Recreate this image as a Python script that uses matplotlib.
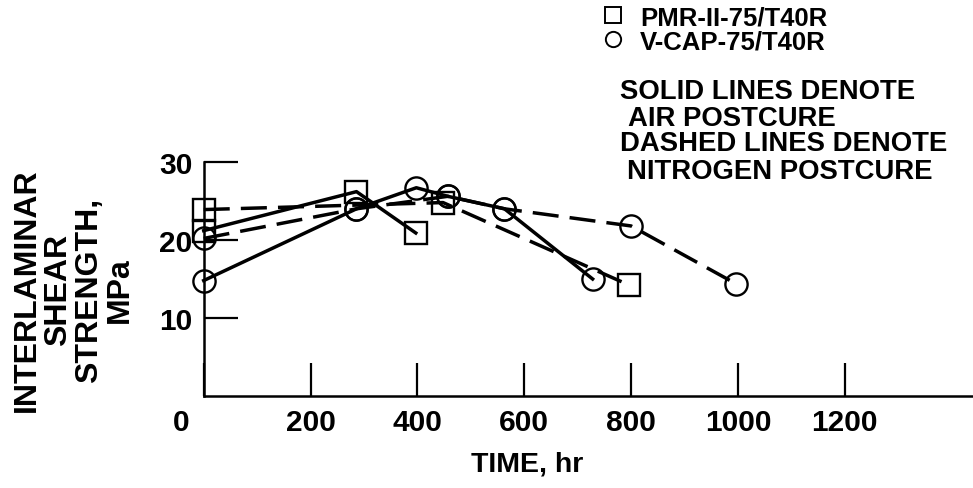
import matplotlib
matplotlib.use("Agg")
import matplotlib.pyplot as plt
from matplotlib.lines import Line2D
from matplotlib.transforms import ScaledTranslation

plt.rcParams['font.family'] = ['Liberation Sans', 'DejaVu Sans']
plt.rcParams['font.weight'] = 'bold'

# data (time in hr, strength in MPa)
pmr_air_t = [0, 286, 397]
pmr_air_s = [21.2, 26.2, 20.9]
pmr_n2_t = [0, 448, 797]
pmr_n2_s = [23.9, 24.8, 14.2]
vcap_air_t = [0, 286, 398, 457, 563, 728]
vcap_air_s = [14.8, 24.0, 26.7, 25.6, 24.0, 15.0]
vcap_n2_t = [0, 286, 457, 563, 800, 996]
vcap_n2_s = [20.2, 24.0, 25.6, 24.0, 21.8, 14.4]

xticks = [0, 200, 400, 600, 800, 1000, 1200]
yticks = [10, 20, 30]

fig = plt.figure(figsize=(9.73, 4.89), dpi=100)
ax = fig.add_axes([203.7 / 973, 92 / 489, 769.3 / 973, 234 / 489])

lw = 2.5
dash = (7.5, 3.2)
mk = dict(ms=16, mfc='none', mec='black', mew=1.7, color='black', clip_on=False, lw=lw)

ax.plot(pmr_air_t, pmr_air_s, marker='s', ls='-', **mk)
l1, = ax.plot(pmr_n2_t, pmr_n2_s, marker='s', ls='--', **mk)
l1.set_dashes(dash)
ax.plot(vcap_air_t, vcap_air_s, marker='o', ls='-', **mk)
l2, = ax.plot(vcap_n2_t, vcap_n2_s, marker='o', ls='--', **mk)
l2.set_dashes(dash)

ax.set_xlim(0, 1440)
ax.set_ylim(0, 30)
ax.spines['top'].set_visible(False)
ax.spines['right'].set_visible(False)
ax.spines['left'].set_linewidth(1.8)
ax.spines['bottom'].set_linewidth(1.8)

ax.set_xticks(xticks)
ax.set_xticklabels([str(v) for v in xticks])
ax.set_yticks(yticks)
ax.set_yticklabels([str(v) for v in yticks])
ax.tick_params(axis='x', direction='in', length=24, width=1.6, pad=9, labelsize=21.5)
ax.tick_params(axis='y', direction='in', length=24.5, width=1.6, pad=8, labelsize=21.5)

# corner "0" sits left of the origin
zero = ax.get_xticklabels()[0]
zero.set_transform(zero.get_transform() + ScaledTranslation(-23 / 100, 0, fig.dpi_scale_trans))

ax.set_xlabel('TIME, hr', fontsize=20.5, fontweight='bold')
ax.xaxis.set_label_coords((527 - 203.7) / 769.3, -(452 - 397) / 234)
ax.xaxis.label.set_va('top')

ax.set_ylabel('INTERLAMINAR\nSHEAR\nSTRENGTH,\nMPa', fontsize=23, fontweight='bold',
              linespacing=1.05, multialignment='center')
ax.yaxis.label.set_va('center')
ax.yaxis.set_label_coords((73.5 - 203.7) / 769.3, (397 - 290) / 234)

handles = [Line2D([], [], marker='s', ls='none', ms=11, mfc='none', mec='black', mew=1.4),
           Line2D([], [], marker='o', ls='none', ms=11, mfc='none', mec='black', mew=1.4)]
fig.legend(handles, ['PMR-II-75/T40R', 'V-CAP-75/T40R'], loc='upper left',
           bbox_to_anchor=(601 / 973, 1 - 6 / 489), frameon=False, fontsize=18.5,
           borderpad=0, handlelength=0.9, handletextpad=0.62, labelspacing=0.0,
           borderaxespad=0)

notes = ['SOLID LINES DENOTE', ' AIR POSTCURE', 'DASHED LINES DENOTE', ' NITROGEN POSTCURE']
note_y = [92, 119, 144, 172]
note_x = [620, 628, 620, 627]
for s, x, y in zip(notes, note_x, note_y):
    fig.text(x / 973, 1 - y / 489, s.strip(), fontsize=19.8, fontweight='bold', va='center', ha='left')

fig.savefig('out.png', dpi=100)
